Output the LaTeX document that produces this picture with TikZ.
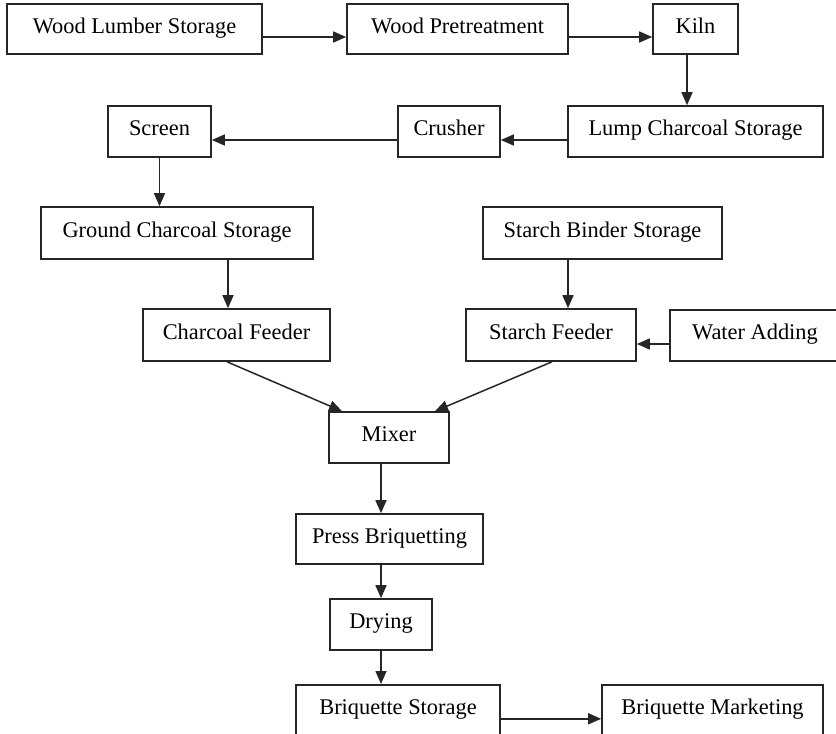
\documentclass[tikz,border=0pt]{standalone}
\usepackage{fontspec}
\setmainfont{Liberation Serif}
\usetikzlibrary{arrows.meta}
\tikzset{
  stage/.style={draw=black!85, line width=1.6pt, rectangle, inner sep=0pt,
    minimum height=51pt, text height=14pt, text depth=6pt,
    font=\fontsize{22.4pt}{26pt}\selectfont, anchor=center},
  cutoff/.style={minimum height=56pt, text depth=11.6pt, anchor=north},
  flow/.style={draw=black!85, line width=1.5pt, -{Triangle[length=13pt,width=11pt]}},
}
\begin{document}
\begin{tikzpicture}[x=1pt,y=-1pt]
\useasboundingbox (0,0) rectangle (836,734);
\clip (0,0) rectangle (836,734);

% charcoal production line
\node[stage, minimum width=255pt, minimum height=50pt] (lumber) at (134.5,29) {Wood Lumber Storage};
\node[stage, minimum width=221pt, minimum height=50pt] (pretreat) at (457.5,29) {Wood Pretreatment};
\node[stage, minimum width=85pt, minimum height=50pt] (kiln) at (695.5,29) {Kiln};
\node[stage, minimum width=255pt] (lump) at (695.5,131.5) {Lump Charcoal Storage};
\node[stage, minimum width=102pt] (crusher) at (449,131.5) {Crusher};
\node[stage, minimum width=103pt] (screen) at (159.5,131.5) {Screen};
\node[stage, minimum width=272pt, minimum height=52pt] (ground) at (177,233) {Ground Charcoal Storage};

% binder preparation
\node[stage, minimum width=239pt, minimum height=52pt] (binder) at (602.5,233) {Starch Binder Storage};
\node[stage, minimum width=187pt, minimum height=52pt] (cfeeder) at (236.5,335) {Charcoal Feeder};
\node[stage, minimum width=170pt, minimum height=52pt] (sfeeder) at (551,335) {Starch Feeder};
\node[stage, minimum width=170pt] (water) at (755,335.5) {Water Adding};

% briquetting line
\node[stage, minimum width=120pt] (mixer) at (389,437.5) {Mixer};
\node[stage, minimum width=187pt, minimum height=50pt] (press) at (389.5,539) {Press Briquetting};
\node[stage, minimum width=102pt] (drying) at (381,624.5) {Drying};
\node[stage, cutoff, minimum width=204pt] (bstorage) at (398,684) {Briquette Storage};
\node[stage, cutoff, minimum width=221pt] (bmarket) at (712.5,684) {Briquette Marketing};

% material flow
\draw[flow] ([yshift=-8pt]lumber.east) -- ([yshift=-8pt]pretreat.west);
\draw[flow] ([yshift=-8pt]pretreat.east) -- ([yshift=-8pt]kiln.west);
\draw[flow] ([xshift=-8.5pt]kiln.south) -- ([xshift=-8.5pt]kiln.south |- lump.north);
\draw[flow] ([yshift=-8.5pt]lump.west) -- ([yshift=-8.5pt]crusher.east);
\draw[flow] ([yshift=-8.5pt]crusher.west) -- ([yshift=-8.5pt]screen.east);
\draw[flow] (screen.south) -- (screen.south |- ground.north);
\draw[flow] ([xshift=51pt]ground.south) -- ([xshift=51pt]ground.south |- cfeeder.north);
\draw[flow] ([xshift=-34.5pt]binder.south) -- ([xshift=-34.5pt]binder.south |- sfeeder.north);
\draw[flow] ([yshift=-8.5pt]water.west) -- ([yshift=-8.5pt]water.west -| sfeeder.east);
\draw[flow] ([xshift=-9.5pt]cfeeder.south) -- ([xshift=-47pt]mixer.north);
\draw[flow] ([xshift=1pt]sfeeder.south) -- ([xshift=46pt]mixer.north);
\draw[flow] ([xshift=-8pt]mixer.south) -- ([xshift=-8pt]mixer.south |- press.north);
\draw[flow] ([xshift=-8.5pt]press.south) -- (drying.north);
\draw[flow] (drying.south) -- (drying.south |- bstorage.north);
\draw[flow] ([yshift=-6pt]bstorage.east) -- ([yshift=-6pt]bmarket.west);
\end{tikzpicture}
\end{document}
